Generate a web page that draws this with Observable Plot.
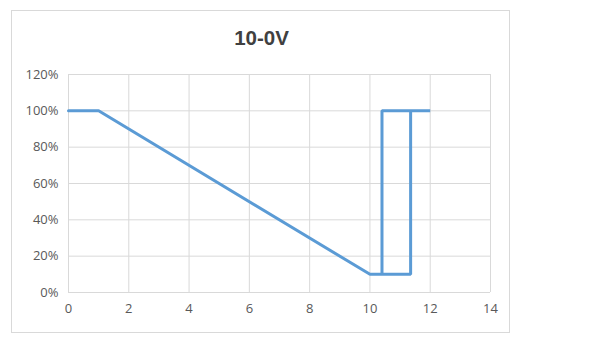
<!DOCTYPE html>
<html>
<head>
<meta charset="utf-8">
<script src="https://cdn.jsdelivr.net/npm/d3@7"></script>
<script src="https://cdn.jsdelivr.net/npm/@observablehq/plot@0.6"></script>
<style>
  html, body { margin: 0; padding: 0; background: #fff; }
  #wrap { position: relative; width: 603px; height: 352px; }
  #box { position: absolute; left: 11px; top: 10px; width: 497px; height: 321px; border: 1px solid #d9d9d9; pointer-events: none; }
  #wrap svg { position: absolute; left: 0; top: 0; }
</style>
</head>
<body>
<div id="wrap"><div id="box"></div></div>
<script>
const title = "10-0V";
const xValues = [0, 1, 10, 11.35, 11.35, 12, 10.4, 10.4];
const yValues = [1, 1, 0.1, 0.1, 1, 1, 1, 0.1];
const xTicks = [0, 2, 4, 6, 8, 10, 12, 14];
const yTicks = [0, 0.2, 0.4, 0.6, 0.8, 1.0, 1.2];

const data = xValues.map((x, i) => ({x, y: yValues[i]}));

const chart = Plot.plot({
  width: 603,
  height: 352,
  marginLeft: 68,
  marginRight: 113,
  marginTop: 74,
  marginBottom: 60,
  style: { fontFamily: "'Open Sans', 'Liberation Sans', sans-serif", color: "#595959", background: "transparent" },
  x: { domain: [0, 14], label: null, axis: null },
  y: { domain: [0, 1.2], label: null, axis: null },
  marks: [
    Plot.gridX(xTicks, { stroke: "#d9d9d9", strokeOpacity: 1 }),
    Plot.gridY(yTicks, { stroke: "#d9d9d9", strokeOpacity: 1 }),
    Plot.text(xTicks, { x: d => d, frameAnchor: "bottom", dy: 20, text: d => String(d), fontSize: 13, fill: "#595959" }),
    Plot.text(yTicks, { y: d => d, frameAnchor: "left", dx: -10, textAnchor: "end", text: d => Math.round(d * 100) + "%", fontSize: 13, fill: "#595959" }),
    Plot.line(data, { x: "x", y: "y", stroke: "#5b9bd5", strokeWidth: 3, strokeLinejoin: "miter" }),
    Plot.text([title], { text: d => d, frameAnchor: "top-left", dx: 261 - 68, dy: -44, fontSize: 20.5, fontWeight: "bold", fill: "#404040", textAnchor: "middle", fontFamily: "'Liberation Sans', Arial, sans-serif" })
  ]
});
document.getElementById("wrap").appendChild(chart);
</script>
</body>
</html>
